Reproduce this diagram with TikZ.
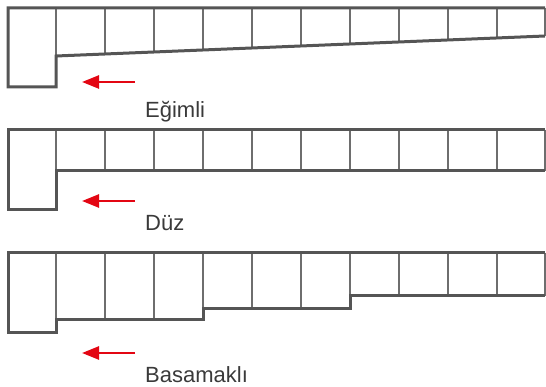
\documentclass[tikz,border=0pt]{standalone}
\usepackage{fontspec}
\setmainfont{Liberation Sans}
\usetikzlibrary{arrows.meta}
\definecolor{outline}{HTML}{555555}
\definecolor{divider}{HTML}{6E6E6E}
\definecolor{arrowred}{HTML}{E30613}
\definecolor{labelgray}{HTML}{3A3A3A}
\tikzset{
  frame/.style={draw=outline, line width=3pt, line join=miter},
  cellline/.style={draw=divider, line width=2pt},
  flowarrow/.style={draw=arrowred, line width=2.5pt, -{Triangle[length=17pt,width=13pt]}},
  caption/.style={anchor=base west, inner sep=0pt, font=\fontsize{22}{26}\selectfont, text=labelgray}
}
\begin{document}
\begin{tikzpicture}[x={(1pt,0)}, y={(0,-1pt)}]
\useasboundingbox (0,0) rectangle (546,387);

% ---------- Eğimli ----------
\foreach \x in {56,105,154,203,252,301,350,399,448,497,545} {
  \pgfmathsetmacro{\yb}{56-20*(\x-56)/489}
  \draw[cellline] (\x,8) -- (\x,\yb);
}
\draw[frame] (545,8) -- (8,8) -- (8,87) -- (56,87) -- (56,56) -- (545,36);
\coordinate (a1s) at (135,82);
\coordinate (a1e) at (82,82);
\draw[flowarrow] (a1s) -- (a1e);
\node[caption] (l1) at (145,118) {Eğimli};

% ---------- Düz ----------
\foreach \x in {56,105,154,203,252,301,350,399,448,497,545} {
  \draw[cellline] (\x,130) -- (\x,171);
}
\draw[frame] (545,130) -- (8,130) -- (8,210) -- (56,210) -- (56,171) -- (545,171);
\coordinate (a2s) at (135,201);
\coordinate (a2e) at (82,201);
\draw[flowarrow] (a2s) -- (a2e);
\node[caption] (l2) at (145,231) {Düz};

% ---------- Basamaklı ----------
\foreach \x in {56,105,154} {
  \draw[cellline] (\x,253) -- (\x,319);
}
\foreach \x in {203,252,301} {
  \draw[cellline] (\x,253) -- (\x,308);
}
\foreach \x in {350,399,448,497,545} {
  \draw[cellline] (\x,253) -- (\x,296);
}
\draw[frame] (545,253) -- (8,253) -- (8,332) -- (56,332) -- (56,319) -- (203,319)
  -- (203,308) -- (350,308) -- (350,296) -- (545,296);
\coordinate (a3s) at (135,353);
\coordinate (a3e) at (82,353);
\draw[flowarrow] (a3s) -- (a3e);
\node[caption] (l3) at (145,382) {Basamaklı};
\end{tikzpicture}
\end{document}
